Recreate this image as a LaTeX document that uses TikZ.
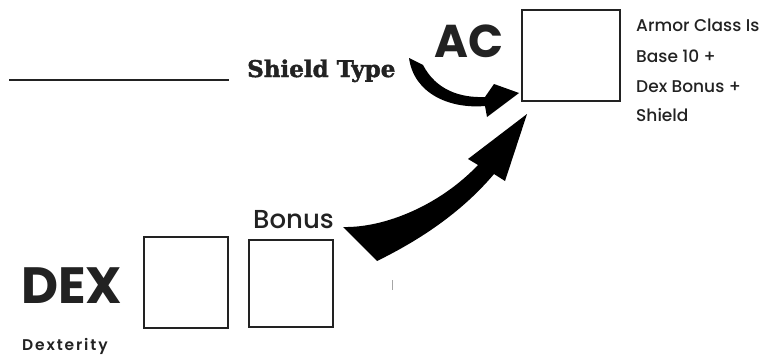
\documentclass[tikz,border=0pt]{standalone}
\usepackage{fontspec}
\newfontfamily\popb{Poppins}[UprightFont=* Bold]
\newfontfamily\popm{Poppins}[UprightFont=* Medium]
\newfontfamily\popt{Poppins}[UprightFont=* SemiBold, LetterSpace=12]
\newfontfamily\slab{DejaVu Serif}[UprightFont=* Bold, FakeBold=1.8]
\definecolor{ink}{HTML}{222222}
\begin{document}
\begin{tikzpicture}[x=1pt,y=-1pt,
  box/.style={draw=ink,line width=1.4pt,fill=white},
  label/.style={inner sep=0pt,anchor=base west,text=ink},
  swoosh/.style={fill=black,draw=none}]
\useasboundingbox (0,0) rectangle (778,356);

% answer line
\coordinate (l1) at (9,80);
\coordinate (l2) at (229,80);
\draw[ink,line width=1.3pt] (l1) -- (l2);

% boxes
\node[box,minimum width=98pt,minimum height=91pt,inner sep=0pt] (ac) at (571,55.5) {};
\node[box,minimum width=84pt,minimum height=91pt,inner sep=0pt] (dexbox) at (186,282.5) {};
\node[box,minimum width=84pt,minimum height=87pt,inner sep=0pt] (bonbox) at (291,283.5) {};

% labels
\node[label,font=\slab\fontsize{23}{23}\selectfont] (shield) at (247,77) {Shield Type};
\node[label,font=\popb\fontsize{46}{46}\selectfont] (aclbl) at (434,57) {AC};
\node[label,font=\popb\fontsize{51}{51}\selectfont] (dex) at (21,303) {DEX};
\node[label,font=\popm\fontsize{26}{26}\selectfont] (bonus) at (253,228) {Bonus};
\node[label,font=\popt\fontsize{15.5}{15.5}\selectfont] (dexterity) at (22,350) {Dexterity};
\node[label,font=\popm\fontsize{17}{17}\selectfont] (r1) at (636,31) {Armor Class Is};
\node[label,font=\popm\fontsize{17}{17}\selectfont] (r2) at (636,62) {Base 10 +};
\node[label,font=\popm\fontsize{17}{17}\selectfont] (r3) at (636,92) {Dex Bonus +};
\node[label,font=\popm\fontsize{17}{17}\selectfont] (r4) at (636,121) {Shield};

% swoosh from the shield label into the AC box
\fill[swoosh] (409,58) -- (423,65)
  .. controls (436,90) and (460,98) .. (485,97)
  -- (494,84) -- (519,93) -- (487,117) -- (485,106)
  .. controls (450,109) and (414,94) .. (409,58) -- cycle;

% swoosh from the bonus box up to the AC box
\fill[swoosh] (343,227)
  .. controls (385,228) and (440,205) .. (478,165)
  -- (468,159) -- (527,114) -- (505,181) -- (494,174)
  .. controls (462,212) and (420,240) .. (377,261) -- cycle;

% faint tick
\draw[black!35,line width=1pt] (392,280) -- (392,290);
\end{tikzpicture}
\end{document}
